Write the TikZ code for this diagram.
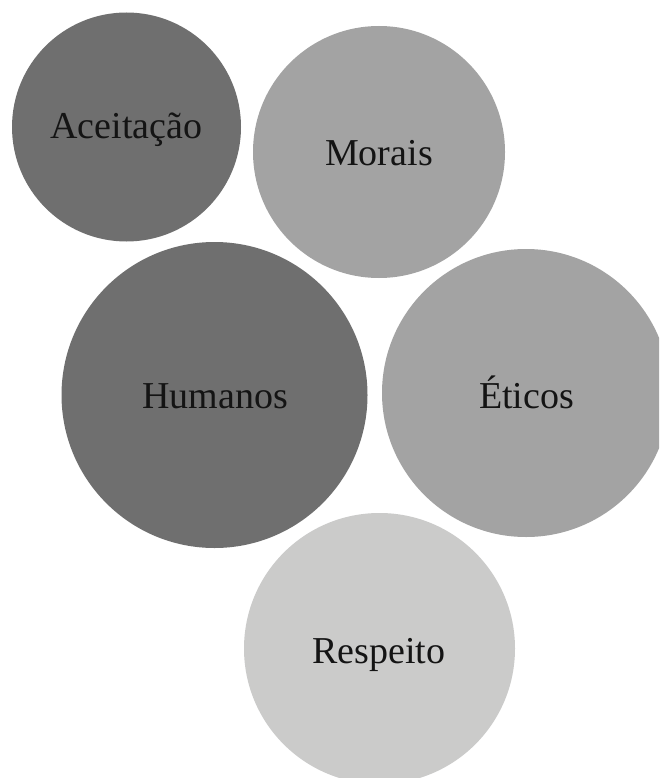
\documentclass[tikz,border=0pt]{standalone}
\usepackage{fontspec}
\setmainfont{Liberation Serif}
\definecolor{darkg}{HTML}{6F6F6F}
\definecolor{midg}{HTML}{A3A3A3}
\definecolor{lightg}{HTML}{CBCBCA}
\definecolor{ink}{HTML}{141414}
\tikzset{
  bubble/.style={circle, inner sep=0pt, draw=none},
  word/.style={anchor=base, inner sep=0pt, text=ink, font=\fontsize{38}{40}\selectfont}
}
\begin{document}
\begin{tikzpicture}[x=1pt,y=-1pt]
\useasboundingbox (0,0) rectangle (659,778);
\clip (0,0) rectangle (659,778);
\fill[white] (0,0) rectangle (659,778);
\node[bubble, fill=darkg, minimum size=229pt] (acei) at (126.5,127) {};
\node[bubble, fill=midg, minimum size=252pt] (mora) at (379,152) {};
\node[bubble, fill=darkg, minimum size=306pt] (huma) at (214.5,395) {};
\node[bubble, fill=midg, minimum size=288pt] (etic) at (526,393) {};
\node[bubble, fill=lightg, minimum size=271pt] (resp) at (379.5,648.5) {};
\node[word] (tacei) at (126.5,139) {Aceitação};
\node[word] (tmora) at (379,165) {Morais};
\node[word] (thuma) at (215,408) {Humanos};
\node[word] (tetic) at (526.5,408) {Éticos};
\node[word] (tresp) at (379,663) {Respeito};
\end{tikzpicture}
\end{document}
